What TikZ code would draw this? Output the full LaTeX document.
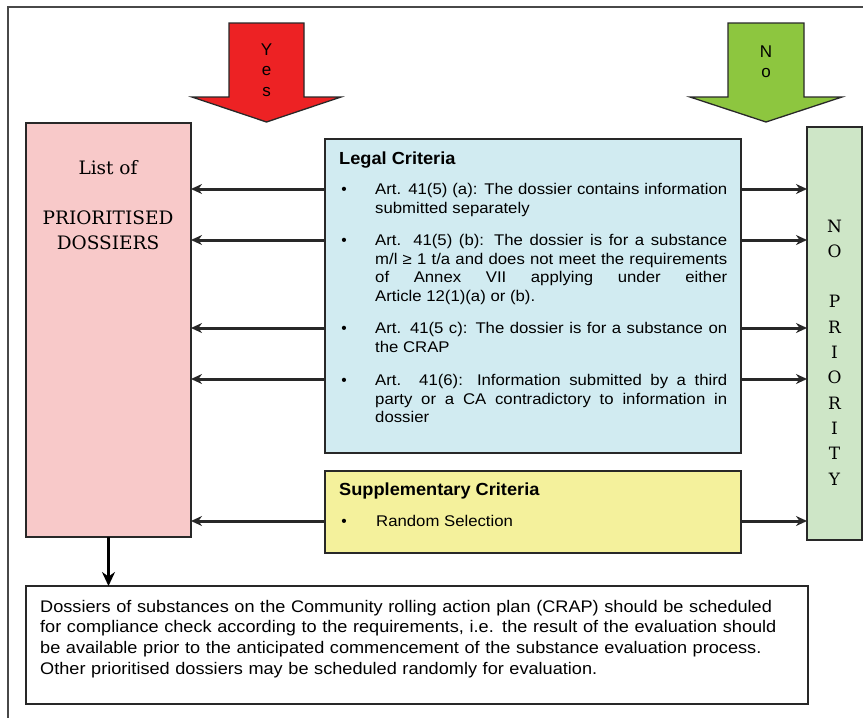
\documentclass[tikz,border=0pt]{standalone}
\usepackage{fontspec}
\setmainfont{Liberation Sans}
\newfontfamily\serifx{DejaVu Serif}
\newfontfamily\widesans[FakeStretch=1.08]{Liberation Sans}
\newfontfamily\midsans[FakeStretch=1.04]{Liberation Sans}
\usetikzlibrary{arrows.meta}
\definecolor{redA}{RGB}{237,34,36}
\definecolor{greenA}{RGB}{141,198,63}
\definecolor{pinkbox}{RGB}{248,201,201}
\definecolor{bluebox}{RGB}{209,235,241}
\definecolor{yellowbox}{RGB}{244,241,156}
\definecolor{greenbox}{RGB}{206,230,199}
\definecolor{edge}{RGB}{40,40,40}
\begin{document}
\begin{tikzpicture}[x=1pt,y=-1pt,
  box/.style={draw=edge,line width=1.5pt,inner sep=0pt,outer sep=0pt},
  conn/.style={draw=edge,line width=3pt,-{Stealth[length=11pt,width=10pt]}},
  bigconn/.style={draw=black,line width=3.6pt,-{Stealth[length=14pt,width=13pt]}},
  blockarrow/.style={draw=edge,line width=1.3pt},
  itemtxt/.style={anchor=base west,inner sep=0pt,text width=352pt,align=justify,
    font=\fontsize{15.5}{18.5}\widesans},
  bul/.style={anchor=base,inner sep=0pt,font=\fontsize{15.5}{18.5}\selectfont},
  ttl/.style={anchor=base west,inner sep=0pt,font=\fontsize{17.5}{20}\midsans\bfseries},
  sertxt/.style={anchor=base,inner sep=0pt,font=\fontsize{18.5}{22}\serifx},
  npletter/.style={anchor=base,inner sep=0pt,font=\fontsize{17}{20}\serifx},
  arrtxt/.style={anchor=base,inner sep=0pt,text width=20pt,align=center,
    font=\fontsize{17}{20.5}\selectfont}]
\useasboundingbox (0,0) rectangle (863,718);
% outer frame
\draw[edge!85,line width=2pt] (8,718) -- (8,7) -- (863,7);
% block arrows
\draw[blockarrow,fill=redA] (229,23) -- (304,23) -- (304,97) -- (341,97) -- (266.5,122) -- (192,97) -- (229,97) -- cycle;
\node[arrtxt] (yes) at (266.5,55) {Y\\e\\s};
\draw[blockarrow,fill=greenA] (728,23) -- (804,23) -- (804,97) -- (842,97) -- (766,122) -- (690,97) -- (728,97) -- cycle;
\node[arrtxt] (no) at (766,57) {N\\o};
% boxes
\node[box,fill=pinkbox,minimum width=165pt,minimum height=414pt] (prio) at (108.5,330) {};
\node[box,fill=bluebox,minimum width=416pt,minimum height=314pt] (legal) at (533,296) {};
\node[box,fill=yellowbox,minimum width=416pt,minimum height=82pt] (supp) at (533,512) {};
\node[box,fill=greenbox,minimum width=55pt,minimum height=413pt] (nopri) at (834.5,333.5) {};
\node[box,fill=white,minimum width=782pt,minimum height=118pt] (note) at (417,645) {};
% pink box text
\node[sertxt] (l1) at (108,174.5) {List of};
\node[sertxt] (l2) at (108,224.5) {PRIORITISED};
\node[sertxt] (l3) at (108,249.5) {DOSSIERS};
% no priority text
\foreach \ch [count=\i from 0] in {N,O,,P,R,I,O,R,I,T,Y}{
  \node[npletter] (np\i) at (834.5,{232+25.3*\i}) {\ch};
}
% legal criteria text
\node[ttl] (lt) at (339,164) {Legal Criteria};
\node[bul] (b1) at (344,194.6) {\textbullet};
\node[itemtxt] (i1) at (375,194.6) {Art. 41(5) (a): The dossier contains information\linebreak submitted separately};
\node[bul] (b2) at (344,245.6) {\textbullet};
\node[itemtxt] (i2) at (375,245.6) {Art. 41(5) (b): The dossier is for a substance\linebreak m/l ≥ 1 t/a and does not meet the requirements\linebreak of Annex VII applying under either\linebreak Article 12(1)(a) or (b).};
\node[bul] (b3) at (344,333.6) {\textbullet};
\node[itemtxt] (i3) at (375,333.6) {Art. 41(5 c): The dossier is for a substance on\linebreak the CRAP};
\node[bul] (b4) at (344,385.6) {\textbullet};
\node[itemtxt] (i4) at (375,385.6) {Art. 41(6): Information submitted by a third\linebreak party or a CA contradictory to information in\linebreak dossier};
% supplementary
\node[ttl] (st) at (339,495) {Supplementary Criteria};
\node[bul] (b5) at (344,526.6) {\textbullet};
\node[anchor=base west,inner sep=0pt,font=\fontsize{15.5}{18.5}\widesans] (rs) at (376,526.6) {Random Selection};
% note text
\node[anchor=base west,inner sep=0pt,align=left,text width=765pt,font=\fontsize{16.8}{20.7}\widesans] (nt) at (40,612) {Dossiers of substances on the Community rolling action plan (CRAP) should be scheduled\\for compliance check according to the requirements, i.e. the result of the evaluation should\\be available prior to the anticipated commencement of the substance evaluation process.\\Other prioritised dossiers may be scheduled randomly for evaluation.};
% connectors
\foreach \yy/\nm in {189/r1,240/r2,328/r3,379/r4}{
  \coordinate (\nm) at (0,\yy);
  \draw[conn] (legal.west |- \nm) -- (prio.east |- \nm);
  \draw[conn] (legal.east |- \nm) -- (nopri.west |- \nm);
}
\coordinate (r5) at (0,521);
\draw[conn] (supp.west |- r5) -- (prio.east |- r5);
\draw[conn] (supp.east |- r5) -- (nopri.west |- r5);
\draw[bigconn] (prio.south) -- (note.north -| prio.south);
\end{tikzpicture}
\end{document}
